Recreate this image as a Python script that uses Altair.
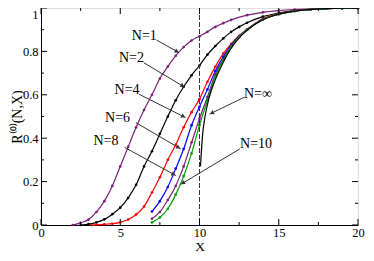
import math
import altair as alt
import pandas as pd

# ---- data ----
X_N1 = [2.0, 2.5, 3, 3.5, 4, 4.5, 5, 5.5, 6, 6.5, 7, 7.5, 8, 8.5, 9, 9.5, 10, 10.5, 11, 11.5, 12, 13, 14, 15, 16, 17, 18, 19, 20]
R_N1 = [0.0, 0.01, 0.025, 0.06, 0.11, 0.18, 0.27, 0.36, 0.45, 0.53, 0.60, 0.675, 0.73, 0.78, 0.82, 0.85, 0.87, 0.89, 0.913, 0.93, 0.945, 0.967, 0.98, 0.988, 0.993, 0.996, 0.998, 0.999, 1.0]

X_N2 = [2.5, 3, 3.5, 4, 4.5, 5, 5.5, 6, 6.5, 7, 7.5, 8, 8.5, 9, 9.5, 10, 10.5, 11, 11.5, 12, 12.5, 13, 14, 15, 16, 17, 18, 19, 20]
R_N2 = [0.0, 0.004, 0.012, 0.026, 0.05, 0.08, 0.125, 0.185, 0.27, 0.34, 0.42, 0.50, 0.575, 0.637, 0.69, 0.735, 0.785, 0.825, 0.86, 0.89, 0.913, 0.932, 0.96, 0.977, 0.988, 0.994, 0.997, 0.999, 1.0]

X_N4 = [3.2, 3.5, 4, 4.5, 5, 5.5, 6, 6.5, 7, 7.5, 8, 8.5, 9, 9.5, 10, 10.5, 11, 11.5, 12, 12.5, 13, 14, 15, 16, 17, 18, 19, 20]
R_N4 = [0.0, 0.001, 0.003, 0.006, 0.012, 0.025, 0.048, 0.085, 0.15, 0.22, 0.30, 0.37, 0.45, 0.52, 0.58, 0.66, 0.73, 0.79, 0.835, 0.872, 0.902, 0.95, 0.973, 0.987, 0.994, 0.997, 0.999, 1.0]

X_HI = [7, 7.5, 8, 8.5, 9, 9.5, 10, 10.5, 11, 11.5, 12, 12.5, 13, 14, 15, 16, 17, 18, 19, 20]
R_N6 = [0.062, 0.11, 0.175, 0.26, 0.35, 0.46, 0.545, 0.625, 0.71, 0.775, 0.83, 0.87, 0.90, 0.948, 0.972, 0.986, 0.993, 0.997, 0.999, 1.0]
R_N8 = [0.029, 0.06, 0.115, 0.18, 0.27, 0.38, 0.49, 0.59, 0.695, 0.765, 0.825, 0.868, 0.90, 0.948, 0.972, 0.986, 0.993, 0.997, 0.999, 1.0]
R_N10 = [0.012, 0.035, 0.075, 0.14, 0.225, 0.33, 0.46, 0.575, 0.685, 0.76, 0.822, 0.866, 0.899, 0.947, 0.971, 0.985, 0.993, 0.997, 0.999, 1.0]

X_INF = [10.06, 10.2, 10.35, 10.6, 11, 11.5, 12, 12.5, 13, 14, 15, 16, 17, 18, 19, 20]
R_INF = [0.27, 0.42, 0.50, 0.585, 0.67, 0.75, 0.815, 0.862, 0.897, 0.946, 0.971, 0.985, 0.993, 0.997, 0.999, 1.0]

SERIES = ["N=1", "N=2", "N=4", "N=6", "N=8", "N=10"]
COLORS = ["#7a1f7a", "#000000", "#ff0000", "#0000ff", "#7a1f7a", "#00a000"]

LABELS = ["N=1", "N=2", "N=4", "N=6", "N=8", "N=\u221e", "N=10"]
LABEL_X = [6.52, 5.71, 5.43, 4.83, 4.10, 13.69, 13.57]
LABEL_Y = [0.87, 0.768, 0.623, 0.491, 0.385, 0.602, 0.372]
ARROW_X0 = [7.30, 6.48, 6.18, 5.98, 5.27, 12.84, 12.55]
ARROW_Y0 = [0.852, 0.748, 0.603, 0.472, 0.358, 0.589, 0.351]
ARROW_X1 = [8.71, 9.07, 9.12, 8.81, 8.51, 10.63, 8.81]
ARROW_Y1 = [0.794, 0.635, 0.495, 0.351, 0.228, 0.511, 0.187]

X_MAJOR = [0, 5, 10, 15, 20]
X_MINOR = [2.5, 7.5, 12.5, 17.5]
Y_MAJOR = [0, 0.2, 0.4, 0.6, 0.8, 1.0]
Y_MINOR = [0.1, 0.3, 0.5, 0.7, 0.9]
VLINE_X = [10]

PAD_L, PAD_R, PAD_T, PAD_B = 33, 8, 0, 28
W = 358 - PAD_L - PAD_R
H = 245 - PAD_T - PAD_B
FONT = "Liberation Serif"

# ---- tables ----
rows = []
for name, xs_, ys_ in [("N=1", X_N1, R_N1), ("N=2", X_N2, R_N2), ("N=4", X_N4, R_N4),
                       ("N=6", X_HI, R_N6), ("N=8", X_HI, R_N8), ("N=10", X_HI, R_N10)]:
    for x, y in zip(xs_, ys_):
        rows.append({"s": name, "x": x, "y": y})
curves = pd.DataFrame(rows)
inf = pd.DataFrame({"x": X_INF, "y": R_INF})

xs = alt.Scale(domain=[0, 20], nice=False, zero=False)
ys = alt.Scale(domain=[0, 1], nice=False, zero=False)
color = alt.Color("s:N", scale=alt.Scale(domain=SERIES, range=COLORS), legend=None)

base_x = alt.X("x:Q", scale=xs, axis=alt.Axis(
    values=X_MAJOR, title="X", ticks=False, grid=False, labelFont=FONT, labelFontSize=12.5,
    labelPadding=1, titleFont=FONT, titleFontSize=13.5, titleFontWeight="normal",
    titleBaseline="top", titleY=14.5, titleX=W / 2,
    domainColor="black", labelColor="black", titleColor="black", labelFlush=False))
base_y = alt.Y("y:Q", scale=ys, axis=alt.Axis(
    values=Y_MAJOR, title="R\u207d\u2070\u207e(N,X)", ticks=False, grid=False, format=".1~f",
    labelFont=FONT, labelFontSize=12.5, labelPadding=3, titleFont=FONT, titleFontSize=14,
    labelBaseline={"condition": {"test": "datum.value == 1", "value": "top"}, "value": "middle"},
    titleFontWeight="normal", titleX=-20, titleY=H / 2, titleBaseline="alphabetic",
    domainColor="black", labelColor="black", titleColor="black", labelFlush=False))

lines = alt.Chart(curves).mark_line(strokeWidth=1.2, interpolate="monotone").encode(
    x=base_x, y=base_y, color=color, detail="s:N")
pts = alt.Chart(curves).mark_point(filled=True, size=7, opacity=1).encode(
    x=alt.X("x:Q", scale=xs), y=alt.Y("y:Q", scale=ys), color=color, detail="s:N")
infl = alt.Chart(inf).mark_line(strokeWidth=1.2, color="black", interpolate="monotone").encode(
    x=alt.X("x:Q", scale=xs), y=alt.Y("y:Q", scale=ys))

vline = alt.Chart(pd.DataFrame({"x": VLINE_X})).mark_rule(
    color="#333333", strokeDash=[5, 2], strokeWidth=1).encode(
    x=alt.X("x:Q", scale=xs), y=alt.value(0), y2=alt.value(H))

# ticks (inward, mirrored)
def xticks(vals, L):
    d = pd.DataFrame({"x": vals})
    b = alt.Chart(d).mark_rule(color="black", strokeWidth=1).encode(
        x=alt.X("x:Q", scale=xs), y=alt.value(H), y2=alt.value(H - L))
    t = alt.Chart(d).mark_rule(color="black", strokeWidth=1).encode(
        x=alt.X("x:Q", scale=xs), y=alt.value(0), y2=alt.value(L))
    return [b, t]

def yticks(vals, L):
    d = pd.DataFrame({"y": vals})
    l = alt.Chart(d).mark_rule(color="black", strokeWidth=1).encode(
        y=alt.Y("y:Q", scale=ys), x=alt.value(0), x2=alt.value(L))
    r = alt.Chart(d).mark_rule(color="black", strokeWidth=1).encode(
        y=alt.Y("y:Q", scale=ys), x=alt.value(W), x2=alt.value(W - L))
    return [l, r]

tick_layers = xticks(X_MAJOR, 6) + xticks(X_MINOR, 3) + yticks(Y_MAJOR, 6) + yticks(Y_MINOR, 3)

# annotations
px_per_x = W / 20.0
px_per_y = H / 1.0
arr_rows, head_rows = [], []
for i, lab in enumerate(LABELS):
    arr_rows.append({"a": lab, "o": 0, "x": ARROW_X0[i], "y": ARROW_Y0[i]})
    arr_rows.append({"a": lab, "o": 1, "x": ARROW_X1[i], "y": ARROW_Y1[i]})
    dx = (ARROW_X1[i] - ARROW_X0[i]) * px_per_x
    dy = -(ARROW_Y1[i] - ARROW_Y0[i]) * px_per_y
    n = math.hypot(dx, dy)
    ang = math.degrees(math.atan2(dy, dx)) % 360
    back = 2.5
    head_rows.append({"x": ARROW_X1[i] - back * dx / n / px_per_x,
                      "y": ARROW_Y1[i] + back * dy / n / px_per_y,
                      "ang": ang})
arrows = pd.DataFrame(arr_rows)
heads = pd.DataFrame(head_rows)

arrow_lines = alt.Chart(arrows).mark_line(color="#333333", strokeWidth=1).encode(
    x=alt.X("x:Q", scale=xs), y=alt.Y("y:Q", scale=ys), detail="a:N", order="o:Q")
arrow_heads = alt.Chart(heads).mark_point(shape="triangle-right", filled=True, size=22,
                                          color="#333333", opacity=1).encode(
    x=alt.X("x:Q", scale=xs), y=alt.Y("y:Q", scale=ys), angle=alt.Angle("ang:Q", scale=None))

labels = alt.Chart(pd.DataFrame({"t": LABELS, "x": LABEL_X, "y": LABEL_Y})).mark_text(
    font=FONT, fontSize=14, color="black", align="center", baseline="middle").encode(
    x=alt.X("x:Q", scale=xs), y=alt.Y("y:Q", scale=ys), text="t:N")

chart = alt.layer(lines, pts, infl, vline, *tick_layers, arrow_lines, arrow_heads, labels).properties(
    width=W, height=H,
    autosize=alt.AutoSizeParams(type="none"),
    padding={"left": PAD_L, "top": PAD_T, "right": PAD_R, "bottom": PAD_B},
).configure_view(stroke="black", strokeWidth=1).configure(background="white")

chart.save("out.html", embed_options={"renderer": "svg", "actions": False})
